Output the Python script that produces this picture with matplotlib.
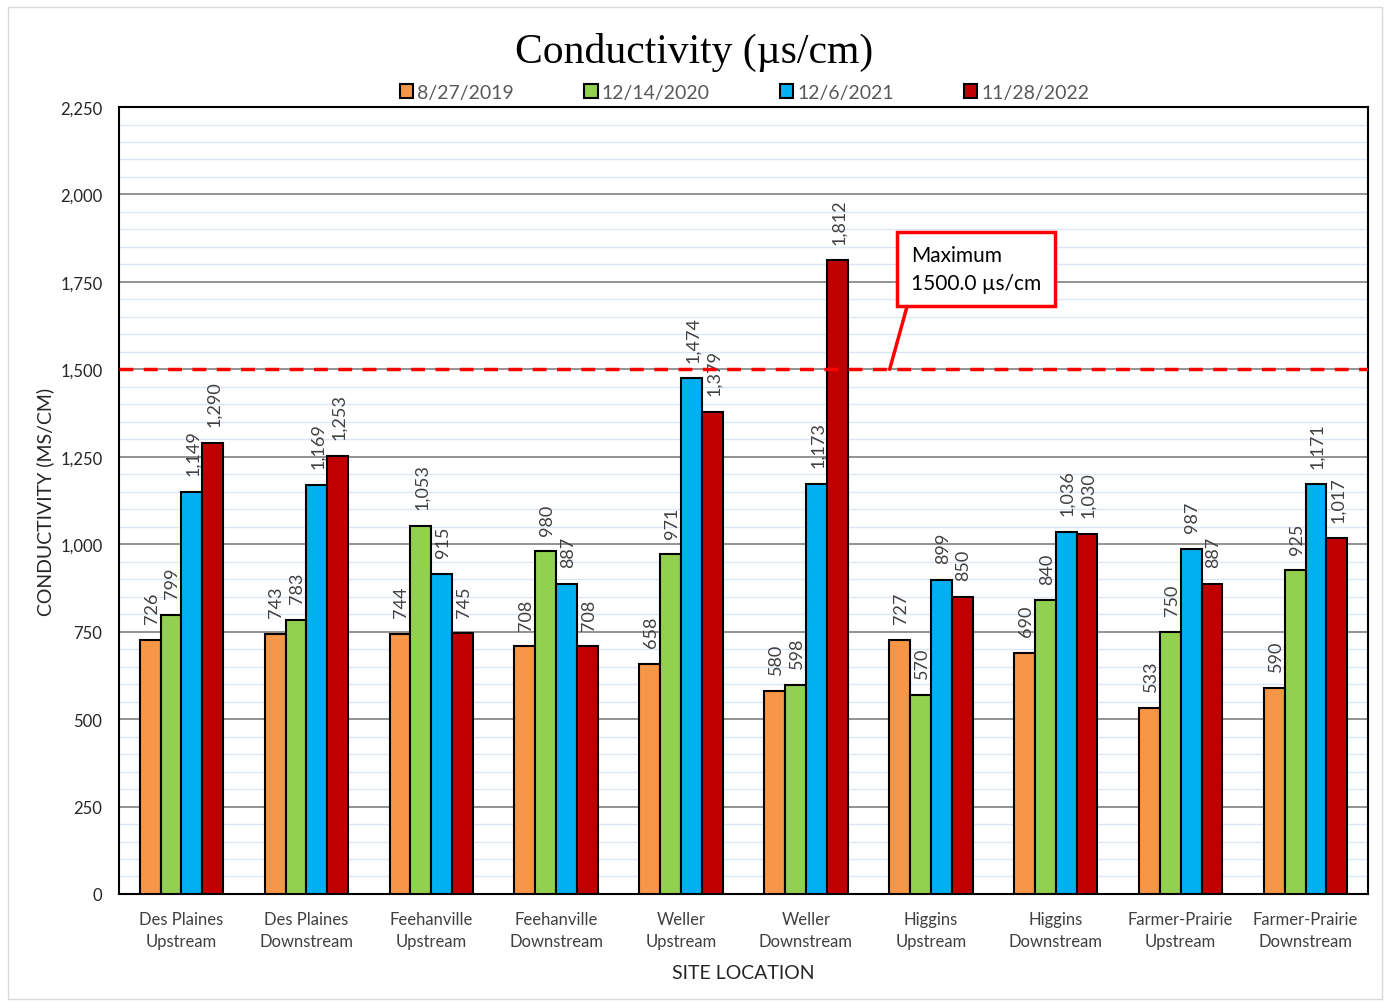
import matplotlib.pyplot as plt
import matplotlib.patches as mpatches
import numpy as np

sites = ['Des Plaines\nUpstream', 'Des Plaines\nDownstream', 'Feehanville\nUpstream',
         'Feehanville\nDownstream', 'Weller\nUpstream', 'Weller\nDownstream',
         'Higgins\nUpstream', 'Higgins\nDownstream', 'Farmer-Prairie\nUpstream',
         'Farmer-Prairie\nDownstream']
dates = ['8/27/2019', '12/14/2020', '12/6/2021', '11/28/2022']
vals_2019 = [726, 743, 744, 708, 658, 580, 727, 690, 533, 590]
vals_2020 = [799, 783, 1053, 980, 971, 598, 570, 840, 750, 925]
vals_2021 = [1149, 1169, 915, 887, 1474, 1173, 899, 1036, 987, 1171]
vals_2022 = [1290, 1253, 745, 708, 1379, 1812, 850, 1030, 887, 1017]
max_limit = 1500.0

series = [vals_2019, vals_2020, vals_2021, vals_2022]
colors = ['#F79646', '#92D050', '#00B0F0', '#C00000']

plt.rcParams['font.family'] = ['Lato', 'DejaVu Sans']

fig = plt.figure(figsize=(13.89, 10.03), dpi=100)
ax = fig.add_axes([0.0857, 0.1077, 0.8992, 0.7846])

# outer chart border
fig.patches.append(mpatches.Rectangle((8 / 1389, 3 / 1003), 1374 / 1389, 992 / 1003,
                                      transform=fig.transFigure, fill=False,
                                      edgecolor='#D9D9D9', linewidth=1))

x = np.arange(len(sites))
w = 0.167
for i, (vals, c, lab) in enumerate(zip(series, colors, dates)):
    pos = x + (i - 1.5) * w
    ax.bar(pos, vals, width=w, color=c, edgecolor='black', linewidth=1.5, label=lab, zorder=3)
    for p, v in zip(pos, vals):
        ax.annotate(f'{v:,}', (p, v), xytext=(1, 12), textcoords='offset points',
                    rotation=90, ha='center', va='bottom', fontsize=13, color='#404040', zorder=4)

ax.set_xlim(-0.5, len(sites) - 0.5)
ax.set_ylim(0, 2250)
ax.set_yticks(np.arange(0, 2251, 250))
ax.set_yticks(np.arange(0, 2251, 50), minor=True)
ax.yaxis.set_major_formatter(plt.FuncFormatter(lambda v, _: f'{int(v):,}'))
ax.grid(axis='y', which='minor', color='#DCE6F2', linewidth=1, zorder=0)
ax.grid(axis='y', which='major', color='#808080', linewidth=1.2, zorder=1)
ax.tick_params(axis='y', which='both', length=0, labelsize=12, labelcolor='#262626', pad=12)
ax.set_xticks(x)
ax.set_xticklabels(sites, fontsize=12, color='#404040', linespacing=1.5)
ax.tick_params(axis='x', length=0, pad=12)
for s in ax.spines.values():
    s.set_linewidth(1.5)
    s.set_color('black')

ax.axhline(max_limit, color='#FF0000', linestyle=(0, (4, 3)), linewidth=2.5, zorder=5)

# callout box
ax.annotate(f'Maximum\n{max_limit:.1f} \u00b5s/cm', xy=(5.67, max_limit), xytext=(5.84, 1787),
            fontsize=15, color='black', va='center', ha='left', linespacing=1.45,
            bbox=dict(boxstyle='square,pad=0.65', fc='white', ec='#FF0000', lw=2.5),
            arrowprops=dict(arrowstyle='-', color='#FF0000', lw=2.5, relpos=(0, 0),
                            shrinkA=0, shrinkB=0), zorder=6)

ax.set_ylabel('CONDUCTIVITY (MS/CM)', fontsize=14, color='#262626', labelpad=4)
ax.set_xlabel('SITE LOCATION', fontsize=14, color='#262626', labelpad=11)

fig.suptitle('Conductivity (\u00b5s/cm)', y=0.967, fontsize=30, family='Liberation Serif')
fig.legend(loc='center', bbox_to_anchor=(0.536, 0.907), ncol=4, frameon=False, fontsize=14,
           handlelength=0.7, handleheight=0.7, handletextpad=0.2, columnspacing=3.6,
           labelcolor='#595959')

fig.savefig('out.png', dpi=100)
